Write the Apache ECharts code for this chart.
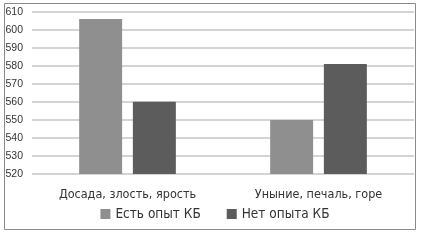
<!DOCTYPE html>
<html><head><meta charset="utf-8">
<script src="https://cdn.jsdelivr.net/npm/echarts@6/dist/echarts.min.js"></script>
<style>html,body{margin:0;padding:0;background:#fff}#c{width:430px;height:240px}</style>
</head><body><div id="c"></div>
<script>
const categories = ['Досада, злость, ярость', 'Уныние, печаль, горе'];
const seriesNames = ['Есть опыт КБ', 'Нет опыта КБ'];
const withExperience = [606, 550];
const withoutExperience = [560, 581];
const yTicks = [520, 530, 540, 550, 560, 570, 580, 590, 600, 610];

const chart = echarts.init(document.getElementById('c'), null, {renderer: 'canvas'});
chart.setOption({
  animation: false,
  backgroundColor: '#fff',
  graphic: [{type: 'rect', shape: {x: 4.5, y: 3.5, width: 411, height: 226}, style: {fill: 'none', stroke: '#8a8a8a', lineWidth: 1}, silent: true}],
  grid: {left: 32, right: 16, top: 11.7, bottom: 66},
  xAxis: {
    type: 'category', data: categories,
    axisLine: {show: false}, axisTick: {show: false},
    axisLabel: {color: '#333', fontSize: 12.5, fontFamily: 'DejaVu Sans Condensed, Liberation Sans, sans-serif', margin: 14}
  },
  yAxis: {
    type: 'value', min: yTicks[0], max: yTicks[yTicks.length - 1], interval: 10,
    axisLine: {show: false}, axisTick: {show: false},
    axisLabel: {color: '#333', fontSize: 10.5, fontFamily: 'Liberation Sans, sans-serif', margin: 9},
    splitLine: {lineStyle: {color: '#d4d4d4', width: 2}}
  },
  legend: {
    bottom: 14, left: 'center', itemWidth: 10, itemHeight: 10, itemGap: 26,
    icon: 'rect',
    textStyle: {color: '#333', fontSize: 13.5, fontFamily: 'DejaVu Sans Condensed, Liberation Sans, sans-serif'},
    data: seriesNames
  },
  series: [
    {name: seriesNames[0], type: 'bar', data: withExperience, barWidth: '22.5%', barGap: '25%', itemStyle: {color: '#8f8f8f'}},
    {name: seriesNames[1], type: 'bar', data: withoutExperience, barWidth: '22.5%', barGap: '25%', itemStyle: {color: '#5c5c5c'}}
  ]
});
</script></body></html>
